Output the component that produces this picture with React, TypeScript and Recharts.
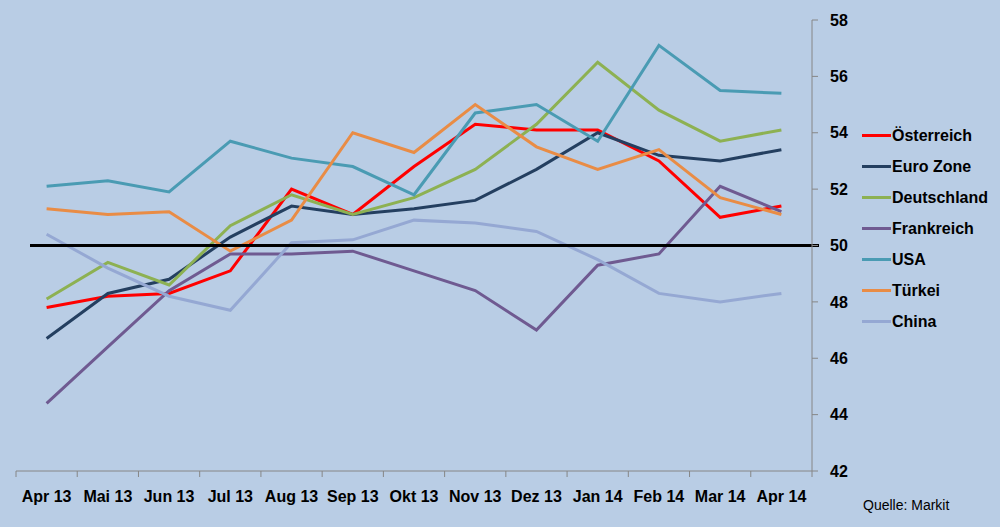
import React from 'react';
import { LineChart, Line, XAxis, YAxis, ReferenceLine, Legend } from 'recharts';

const months = ['Apr 13', 'Mai 13', 'Jun 13', 'Jul 13', 'Aug 13', 'Sep 13', 'Okt 13', 'Nov 13', 'Dez 13', 'Jan 14', 'Feb 14', 'Mar 14', 'Apr 14'];
const oesterreich = [47.8, 48.2, 48.3, 49.1, 52.0, 51.1, 52.8, 54.3, 54.1, 54.1, 53.0, 51.0, 51.4];
const euroZone = [46.7, 48.3, 48.8, 50.3, 51.4, 51.1, 51.3, 51.6, 52.7, 54.0, 53.2, 53.0, 53.4];
const deutschland = [48.1, 49.4, 48.6, 50.7, 51.8, 51.1, 51.7, 52.7, 54.3, 56.5, 54.8, 53.7, 54.1];
const frankreich = [44.4, 46.4, 48.4, 49.7, 49.7, 49.8, 49.1, 48.4, 47.0, 49.3, 49.7, 52.1, 51.2];
const usa = [52.1, 52.3, 51.9, 53.7, 53.1, 52.8, 51.8, 54.7, 55.0, 53.7, 57.1, 55.5, 55.4];
const tuerkei = [51.3, 51.1, 51.2, 49.8, 50.9, 54.0, 53.3, 55.0, 53.5, 52.7, 53.4, 51.7, 51.1];
const china = [50.4, 49.2, 48.2, 47.7, 50.1, 50.2, 50.9, 50.8, 50.5, 49.5, 48.3, 48.0, 48.3];
const yTicks = [42, 44, 46, 48, 50, 52, 54, 56, 58];
const threshold = 50;

const series = [
  { key: 'Österreich', values: oesterreich, color: '#FF0000' },
  { key: 'Euro Zone', values: euroZone, color: '#243F60' },
  { key: 'Deutschland', values: deutschland, color: '#8DB152' },
  { key: 'Frankreich', values: frankreich, color: '#6F5A91' },
  { key: 'USA', values: usa, color: '#4A9BB3' },
  { key: 'Türkei', values: tuerkei, color: '#E98C45' },
  { key: 'China', values: china, color: '#95A8D3' },
];

const data = months.map((m, i) => {
  const row: Record<string, any> = { month: m };
  series.forEach((s) => {
    row[s.key] = s.values[i];
  });
  return row;
});

const FONT = '"Liberation Sans", Arial, sans-serif';
const AXIS = '#868686';
const BG = '#B9CDE5';

const XTick = (props: any) => {
  const { x, y, payload } = props;
  const half = payload && payload.offset ? payload.offset : 30.6;
  const last = payload && payload.index === months.length - 1;
  return (
    <g>
      <line x1={x - half} x2={x - half} y1={y} y2={y + 6} stroke={AXIS} strokeWidth={1} />
      {last ? <line x1={x + half} x2={x + half} y1={y} y2={y + 6} stroke={AXIS} strokeWidth={1} /> : null}
      <text x={x} y={y + 31} textAnchor="middle" fontFamily={FONT} fontWeight="bold" fontSize={16} fill="#000">
        {payload.value}
      </text>
    </g>
  );
};

const renderLegend = () => (
  <div style={{ fontFamily: FONT, fontWeight: 'bold', fontSize: 16, color: '#000' }}>
    {series.map((s) => (
      <div key={s.key} style={{ display: 'flex', alignItems: 'center', height: 31 }}>
        <div style={{ width: 29, height: 3, background: s.color, marginRight: 1 }} />
        <span style={{ lineHeight: '31px', whiteSpace: 'nowrap' }}>{s.key}</span>
      </div>
    ))}
  </div>
);

const ThresholdShape = (p: any) => {
  const a = Math.min(p.x1, p.x2);
  const b = Math.max(p.x1, p.x2);
  return <line x1={a + 14} y1={p.y1} x2={b + 7} y2={p.y2} stroke="#000" strokeWidth={3} />;
};

export default function App() {
  return (
    <div style={{ position: 'absolute', left: 0, top: 0, width: 1000, height: 527, background: BG, overflow: 'hidden' }}>
      <LineChart width={1000} height={527} data={data} margin={{ top: 20, right: 148, bottom: 26, left: 16 }}>
        <XAxis
          dataKey="month"
          scale="band"
          interval={0}
          height={30}
          axisLine={{ stroke: AXIS, strokeWidth: 1 }}
          tickLine={false}
          tickSize={0}
          tickMargin={0}
          tick={<XTick />}
        />
        <YAxis
          orientation="right"
          domain={[42, 58]}
          ticks={yTicks}
          interval={0}
          width={40}
          axisLine={{ stroke: AXIS, strokeWidth: 1 }}
          tickLine={{ stroke: AXIS, strokeWidth: 1 }}
          tickSize={6}
          tickMargin={12}
          tick={{ fontFamily: FONT, fontWeight: 'bold', fontSize: 16, fill: '#000' }}
        />
        {series.map((s) => (
          <Line
            key={s.key}
            type="linear"
            dataKey={s.key}
            stroke={s.color}
            strokeWidth={3}
            dot={false}
            activeDot={false}
            isAnimationActive={false}
          />
        ))}
        <ReferenceLine y={threshold} stroke="#000" strokeWidth={3} shape={ThresholdShape} ifOverflow="visible" />
        <Legend
          layout="vertical"
          align="center"
          verticalAlign="middle"
          content={renderLegend}
          wrapperStyle={{ left: 862, top: 120, width: 140 }}
        />
      </LineChart>
      <div style={{ position: 'absolute', left: 863, top: 497, fontFamily: FONT, fontSize: 14, color: '#000', whiteSpace: 'nowrap' }}>
        Quelle: Markit
      </div>
    </div>
  );
}
